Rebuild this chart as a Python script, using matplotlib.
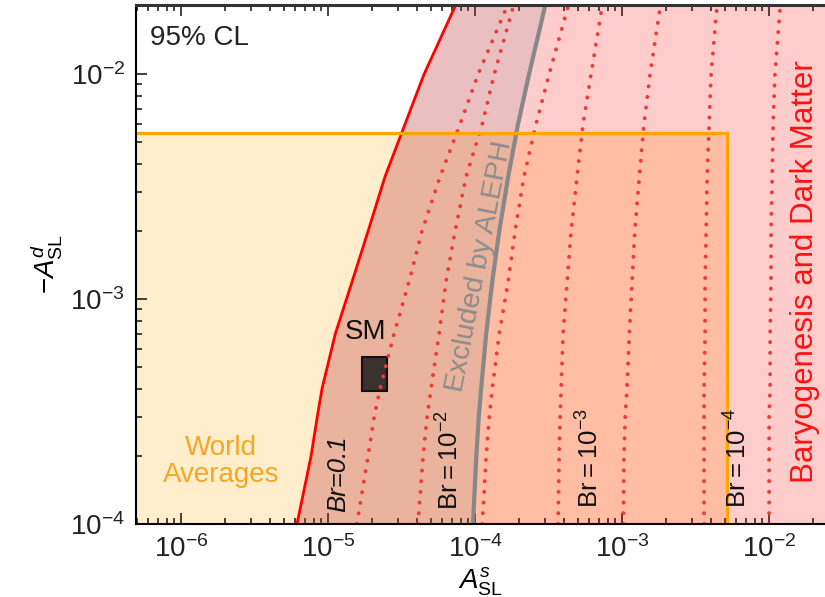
import numpy as np
import matplotlib
matplotlib.use('Agg')
import matplotlib.pyplot as plt
from matplotlib.patches import Rectangle
from matplotlib.ticker import LogLocator, NullFormatter

plt.rcParams['font.family'] = ['Liberation Sans', 'DejaVu Sans']
plt.rcParams['mathtext.fontset'] = 'custom'
plt.rcParams['mathtext.rm'] = 'Liberation Sans'
plt.rcParams['mathtext.it'] = 'Liberation Sans:italic'
plt.rcParams['mathtext.bf'] = 'Liberation Sans:bold'
plt.rcParams['mathtext.sf'] = 'Liberation Sans'

# ---------------- data ----------------
# -A_SL^d levels at which each curve was read
AD_LEVELS = [1e-4, 2e-4, 3e-4, 4e-4, 7e-4, 1.2e-3, 2e-3, 3.5e-3, 6e-3, 1e-2, 2e-2]

# A_SL^s of the solid red boundary (Br = 1)
BOUNDARY_AS = [6.15e-6, 7.66e-6, 8.45e-6, 9.10e-6, 1.12e-5, 1.46e-5, 1.87e-5, 2.44e-5, 3.34e-5, 4.50e-5, 7.31e-5]
# A_SL^s of the ALEPH exclusion line (grey)
ALEPH_AS = [9.68e-5, 1.02e-4, 1.06e-4, 1.10e-4, 1.19e-4, 1.31e-4, 1.46e-4, 1.68e-4, 1.96e-4, 2.33e-4, 2.99e-4]

# dotted branching-ratio contours
BR_1E1_AS = [1.57e-5, 1.87e-5, 2.06e-5, 2.26e-5, 2.81e-5, 3.56e-5, 4.35e-5, 5.78e-5, 7.91e-5, 1.05e-4, 1.65e-4]
BR_5E2_AS = [4.09e-5, 4.43e-5, 4.72e-5, 5.02e-5, 5.69e-5, 6.35e-5, 7.31e-5, 8.69e-5, 1.12e-4, 1.35e-4, 1.82e-4]
BR_1E2_AS = [1.12e-4, 1.19e-4, 1.25e-4, 1.31e-4, 1.46e-4, 1.68e-4, 1.87e-4, 2.15e-4, 2.60e-4, 3.19e-4, 4.29e-4]
BR_3E3_AS = [3.67e-4, 3.73e-4, 3.79e-4, 3.85e-4, 3.97e-4, 4.23e-4, 4.50e-4, 4.94e-4, 5.43e-4, 6.15e-4, 7.31e-4]
BR_1E3_AS = [1.02e-3, 1.03e-3, 1.05e-3, 1.08e-3, 1.12e-3, 1.17e-3, 1.22e-3, 1.31e-3, 1.41e-3, 1.55e-3, 1.82e-3]
BR_3E4_AS = [3.61e-3, 3.61e-3, 3.61e-3, 3.61e-3, 3.67e-3, 3.67e-3, 3.73e-3, 3.79e-3, 3.91e-3, 4.03e-3, 4.42e-3]
BR_1E4_AS = [1.00e-2, 1.00e-2, 1.00e-2, 1.016e-2, 1.016e-2, 1.03e-2, 1.03e-2, 1.05e-2, 1.065e-2, 1.096e-2, 1.19e-2]

# world-average box
WA_AS_MAX = 5.2e-3
WA_AD_MAX = 5.5e-3

# Standard Model box
SM_AS = [1.7e-5, 2.5e-5]
SM_AD = [3.9e-4, 5.5e-4]

# contour labels
BR_LABELS = ['Br=0.1', 'Br$=10^{-2}$', 'Br$=10^{-3}$', 'Br$=10^{-4}$']
BR_LABEL_AS = [1.17e-5, 6.76e-5, 6.05e-4, 6.15e-3]
BR_LABEL_AD = [1.67e-4, 1.92e-4, 1.97e-4, 1.97e-4]

XLIM = [4.94e-7, 2.4e-2]
YLIM = [1e-4, 2.03e-2]

# ---------------- figure ----------------
fig = plt.figure(figsize=(8.25, 5.97), dpi=100)
ax = fig.add_axes([136/825, 1-524/597, 1-136/825, 519/597])
ax.set_xscale('log')
ax.set_yscale('log')
ax.set_xlim(*XLIM)
ax.set_ylim(*YLIM)

ad = np.array(AD_LEVELS)
bnd = np.array(BOUNDARY_AS)
alp = np.array(ALEPH_AS)

# world averages fill
ax.add_patch(Rectangle((1e-8, 1e-6), WA_AS_MAX - 1e-8, WA_AD_MAX - 1e-6,
                       facecolor='#ffa500', alpha=0.2, edgecolor='none', zorder=1))
# baryogenesis region (right of boundary)
ax.fill_betweenx(ad, bnd, 1.0, facecolor='#ff0000', alpha=0.2, edgecolor='none', zorder=2)
# ALEPH excluded band
ax.fill_betweenx(ad, bnd, alp, facecolor='#7f7f7f', alpha=0.16, edgecolor='none', zorder=3)

dot_kw = dict(color='#ee3a3a', lw=2.8, linestyle=(0, (0.05, 2.7)),
              dash_capstyle='round', zorder=6)
for xs in [BR_1E1_AS, BR_5E2_AS, BR_1E2_AS, BR_3E3_AS, BR_1E3_AS, BR_3E4_AS, BR_1E4_AS]:
    ax.plot(xs, ad, **dot_kw)

ax.plot(alp, ad, color='#888888', lw=3.0, zorder=5, solid_capstyle='butt')
ax.plot(bnd, ad, color='#ff0000', lw=2.0, zorder=5)

# SM box
ax.add_patch(Rectangle((SM_AS[0], SM_AD[0]), SM_AS[1]-SM_AS[0], SM_AD[1]-SM_AD[0],
                       facecolor='#3a302d', edgecolor='#111111', lw=1.5, zorder=5))

# world-average outline
ax.plot([1e-8, WA_AS_MAX, WA_AS_MAX], [WA_AD_MAX, WA_AD_MAX, 1e-6],
        color='#ffa500', lw=2.3, zorder=7, solid_joinstyle='miter')

# texts
ax.text(0.020, 0.936, '95% CL', transform=ax.transAxes, fontsize=20,
        ha='left', va='center', color='#222222')
ax.text(1.79e-5, 7.13e-4, 'SM', fontsize=20, ha='center', va='center', color='#111111', zorder=8)
ax.text(1.87e-6, 1.89e-4, 'World\nAverages', fontsize=20, ha='center', va='center',
        color='#f5a623', linespacing=1.05, zorder=8)
for i, (lab, lx, ly) in enumerate(zip(BR_LABELS, BR_LABEL_AS, BR_LABEL_AD)):
    ax.text(lx, ly, lab, fontsize=18.5, rotation=90, ha='center', va='center',
            color='#111111', fontstyle='italic' if i == 0 else 'normal', zorder=8)
ax.text(1.08e-4, 1.40e-3, 'Excluded by ALEPH', fontsize=20.5, rotation=79,
        rotation_mode='anchor', ha='center', va='center', color='#8c8c8c', zorder=8)
ax.text(1.76e-2, 1.32e-3, 'Baryogenesis and Dark Matter', fontsize=22.5, rotation=90,
        ha='center', va='center', color='#ff1010', zorder=8)

# axes styling
ax.set_xlabel(r'$A^{s}_{\rm SL}$', fontsize=20, labelpad=2)
ax.set_ylabel(r'$-A^{d}_{\rm SL}$', fontsize=20, labelpad=4)
ax.spines['right'].set_visible(False)
ax.spines['left'].set_linewidth(1.5)
ax.spines['bottom'].set_linewidth(1.5)
ax.spines['top'].set_linewidth(2.2)
ax.spines['top'].set_color('#333333')
for s in ax.spines.values():
    s.set_zorder(10)

ax.xaxis.set_major_locator(LogLocator(base=10, numticks=20))
ax.xaxis.set_minor_locator(LogLocator(base=10, subs=np.arange(2, 10), numticks=20))
ax.yaxis.set_major_locator(LogLocator(base=10, numticks=20))
ax.yaxis.set_minor_locator(LogLocator(base=10, subs=np.arange(2, 10), numticks=20))
ax.xaxis.set_minor_formatter(NullFormatter())
ax.yaxis.set_minor_formatter(NullFormatter())
ax.tick_params(which='both', direction='in', top=True, right=False, labelsize=20,
               width=1.2, colors='#222222')
ax.tick_params(which='major', length=8, pad=8)
ax.tick_params(which='minor', length=4.5)

fig.savefig('out.png', dpi=100)
